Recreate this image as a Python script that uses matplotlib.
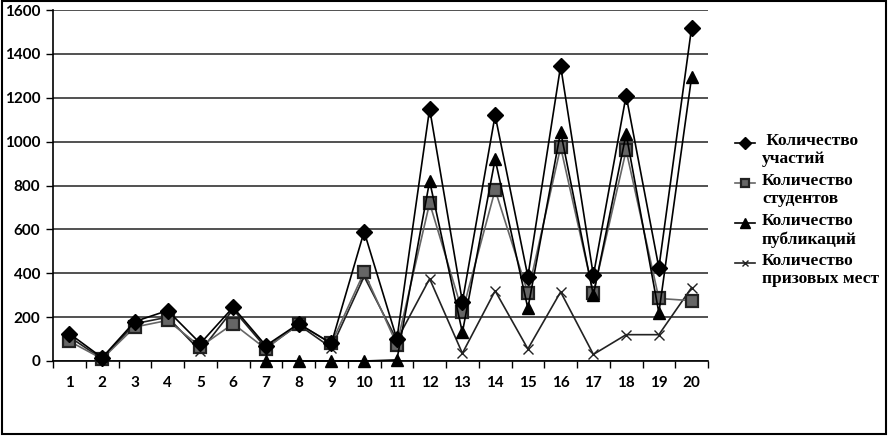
import numpy as np
import matplotlib
matplotlib.use("Agg")
import matplotlib.pyplot as plt
from matplotlib.lines import Line2D
from matplotlib.patches import Rectangle

nan = np.nan
x = np.arange(1, 21)
uchastiy = [125, 15, 180, 230, 80, 245, 70, 170, 80, 590, 100, 1150, 270, 1120, 385, 1345, 390, 1210, 425, 1520]
studentov = [90, 10, 155, 185, 65, 170, 55, 170, 80, 405, 75, 720, 225, 780, 310, 975, 310, 960, 285, 275]
publikaciy = [nan, nan, nan, nan, nan, nan, 0, 0, 0, 0, 5, 820, 130, 920, 240, 1045, 300, 1035, 220, 1295]
prizovye = [110, 10, 170, 200, 45, 235, 60, 165, 60, 385, 95, 375, 35, 320, 55, 315, 30, 120, 120, 335]

labels = [" Количество\nучастий", "Количество\nстудентов", "Количество\nпубликаций", "Количество\nпризовых мест"]
yticks = [0, 200, 400, 600, 800, 1000, 1200, 1400, 1600]

fig = plt.figure(figsize=(8.9, 4.38), dpi=100)
ax = fig.add_axes([53 / 890, 1 - 361 / 438, 655 / 890, 351 / 438])

styles = [
    dict(color="black", marker="D", ms=8, mfc="black", mec="black", lw=1.2, zorder=5),
    dict(color="#666666", marker="s", ms=8, mfc="#666666", mec="#222222", mew=1.6, lw=1.2, zorder=4),
    dict(color="black", marker="^", ms=9, mfc="black", mec="black", lw=1.2, zorder=6),
    dict(color="#222222", marker="x", ms=7, mew=1.0, lw=1.2, zorder=3),
]
series = [uchastiy, studentov, publikaciy, prizovye]
for vals, st in zip(series, styles):
    ax.plot(x, vals, clip_on=False, **st)

ax.set_xlim(0.5, 20.5)
ax.set_ylim(0, 1600)
ax.set_yticks(yticks)
ax.set_xticks(x)
ax.set_xticks(np.arange(0.5, 21, 1), minor=True)
ax.tick_params(axis="x", which="major", length=0, pad=11)
ax.tick_params(axis="x", which="minor", length=5, width=1, direction="out")
ax.tick_params(axis="y", length=5, width=1, direction="out", pad=4)
for lab in ax.get_xticklabels() + ax.get_yticklabels():
    lab.set_fontfamily("Lato")
    lab.set_fontweight("bold")
    lab.set_fontsize(11)
ax.grid(axis="y", color="#333333", lw=1.2)
ax.set_axisbelow(True)
ax.spines["top"].set_visible(False)
ax.spines["right"].set_visible(False)
ax.spines["left"].set_linewidth(1.2)
ax.spines["bottom"].set_linewidth(1.2)

# legend, drawn by hand so the marker sits on the first text line
for i, (lab, st) in enumerate(zip(labels, styles)):
    yp = 1 - (143 + 40 * i) / 438
    leg_st = {k: v for k, v in st.items() if k != "zorder"}
    leg_st["ms"] = st["ms"] - 2
    h = Line2D([735 / 890, 745 / 890, 755 / 890], [yp, yp, yp], transform=fig.transFigure,
               markevery=[1], **leg_st)
    fig.add_artist(h)
    fig.text(762 / 890, yp + 10 / 438, lab, ha="left", va="top", fontsize=12.5, fontweight="bold",
             family="Liberation Serif", linespacing=1.2)

fig.add_artist(Rectangle((1.5 / 890, 4 / 438), 884.5 / 890, 433 / 438, transform=fig.transFigure,
                         fill=False, ec="black", lw=1.5))

fig.savefig("out.png", dpi=100)
